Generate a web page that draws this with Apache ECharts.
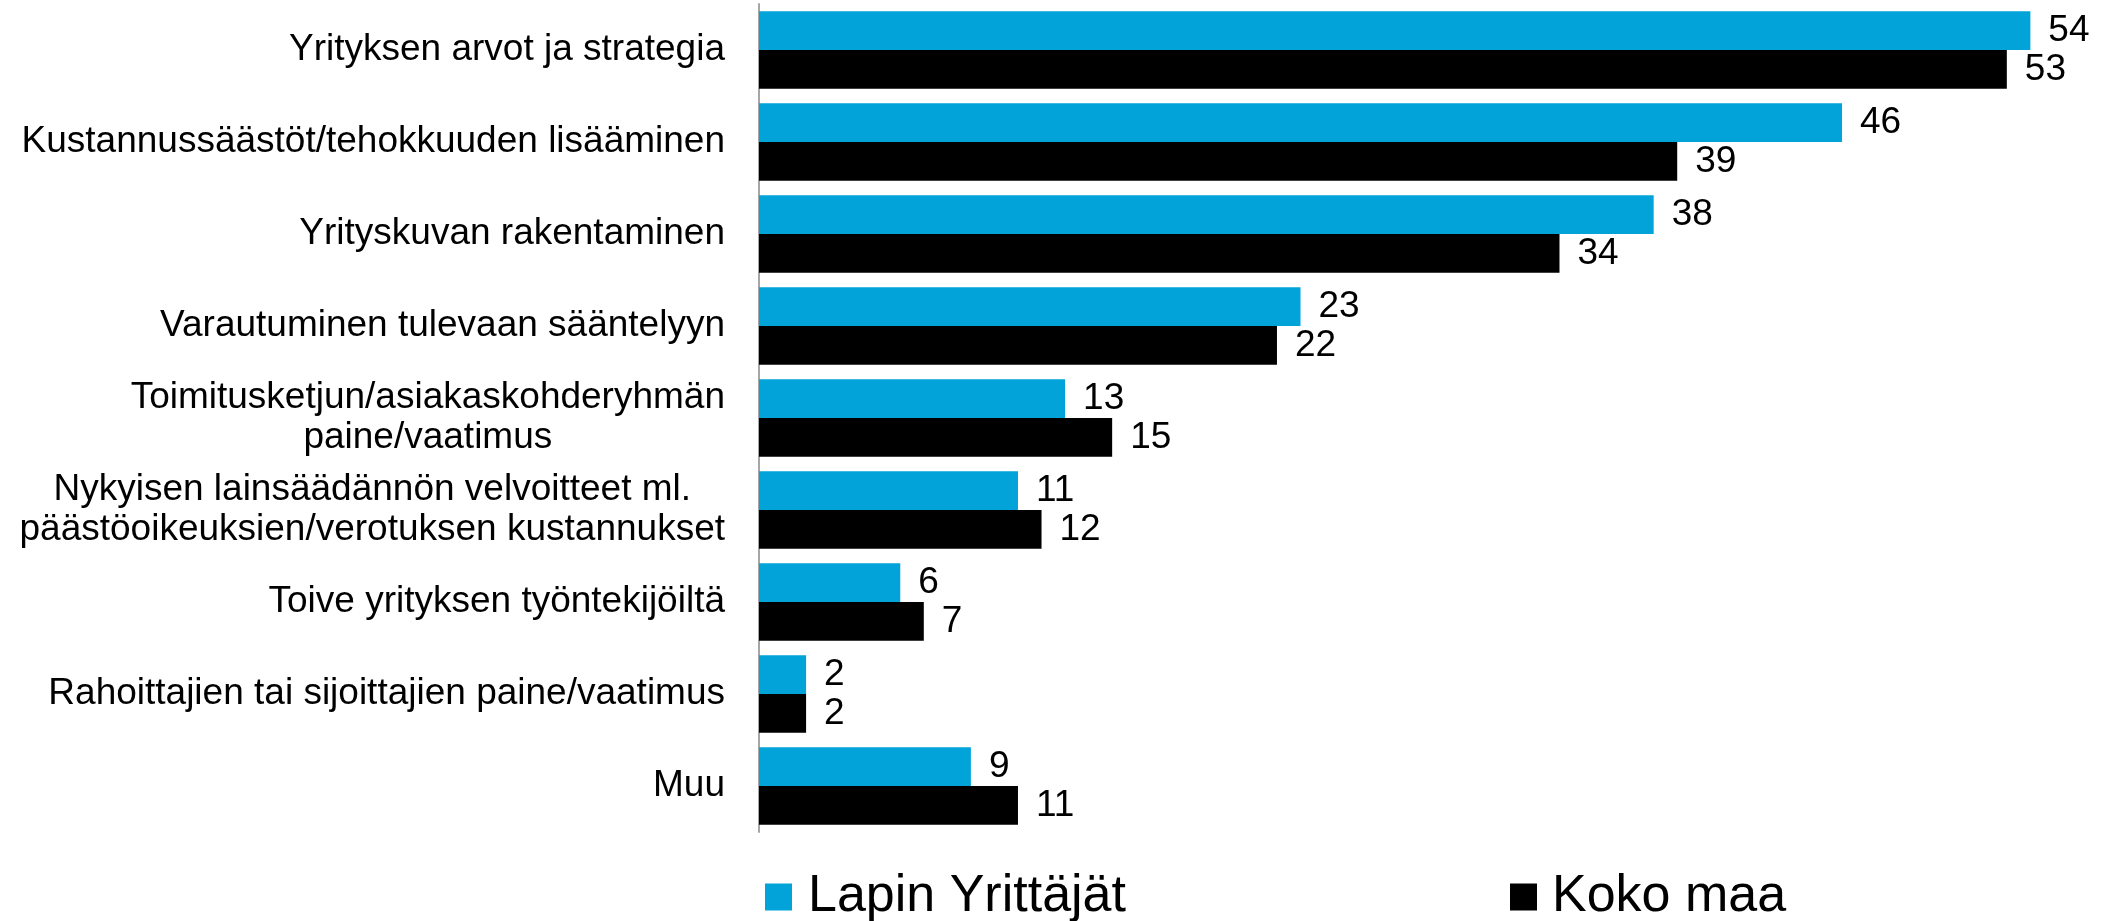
<!DOCTYPE html>
<html lang="fi">
<head>
<meta charset="utf-8">
<title>Syyt</title>
<script src="https://cdn.jsdelivr.net/npm/echarts@6/dist/echarts.min.js"></script>
<style>
  html, body { margin: 0; padding: 0; background: #fff; }
  #container { width: 2108px; height: 921px; }
</style>
</head>
<body>
<div id="container"></div>
<script>
// kategoriat ylhäältä alas
var categories = [
  'Yrityksen arvot ja strategia',
  'Kustannussäästöt/tehokkuuden lisääminen',
  'Yrityskuvan rakentaminen',
  'Varautuminen tulevaan sääntelyyn',
  'Toimitusketjun/asiakaskohderyhmän\npaine/vaatimus',
  'Nykyisen lainsäädännön velvoitteet ml.\npäästöoikeuksien/verotuksen kustannukset',
  'Toive yrityksen työntekijöiltä',
  'Rahoittajien tai sijoittajien paine/vaatimus',
  'Muu'
];
var lappiValues = [54, 46, 38, 23, 13, 11, 6, 2, 9];
var kokoMaaValues = [53, 39, 34, 22, 15, 12, 7, 2, 11];
var seriesNames = ['Lapin Yrittäjät', 'Koko maa'];

var font = 'Liberation Sans, Arial, sans-serif';
var myChart = echarts.init(document.getElementById('container'));

function labelFmt(v){
  // rivit keskitetään lohkon sisällä
  return v.split('\n').map(function(s){ return '{c|' + s + '}'; }).join('\n');
}

var barLabel = {
  show: true,
  position: 'right',
  distance: 18,
  color: '#000',
  fontSize: 37,
  fontFamily: font
};

var option = {
  animation: false,
  grid: { left: 759, top: 4, bottom: 89, right: 7, containLabel: false },
  legend: [
    {
      data: [seriesNames[0]], left: 760, top: 866,
      icon: 'rect', itemWidth: 27, itemHeight: 27,
      textStyle: { fontSize: 52, color: '#000', fontFamily: font, padding: [0, 0, 0, 11] }
    },
    {
      data: [seriesNames[1]], left: 1505, top: 866,
      icon: 'rect', itemWidth: 27, itemHeight: 27,
      textStyle: { fontSize: 52, color: '#000', fontFamily: font, padding: [0, 0, 0, 10] }
    }
  ],
  xAxis: {
    type: 'value', min: 0, max: 57,
    show: false
  },
  yAxis: {
    type: 'category',
    data: categories,
    inverse: true,
    axisLine: { show: true, lineStyle: { color: '#a6a6a6', width: 2 } },
    axisTick: { show: false },
    axisLabel: {
      margin: 34,
      color: '#000',
      fontSize: 37,
      fontFamily: font,
      lineHeight: 40,
      formatter: labelFmt,
      rich: { c: { align: 'center', fontSize: 37, fontFamily: font, color: '#000', lineHeight: 40 } }
    }
  },
  series: [
    {
      name: seriesNames[0], type: 'bar', data: lappiValues,
      barGap: '0%', barCategoryGap: '16%',
      itemStyle: { color: '#02a3d9' },
      label: barLabel
    },
    {
      name: seriesNames[1], type: 'bar', data: kokoMaaValues,
      barGap: '0%', barCategoryGap: '16%',
      itemStyle: { color: '#000000' },
      label: barLabel
    }
  ]
};
myChart.setOption(option);
</script>
</body>
</html>
